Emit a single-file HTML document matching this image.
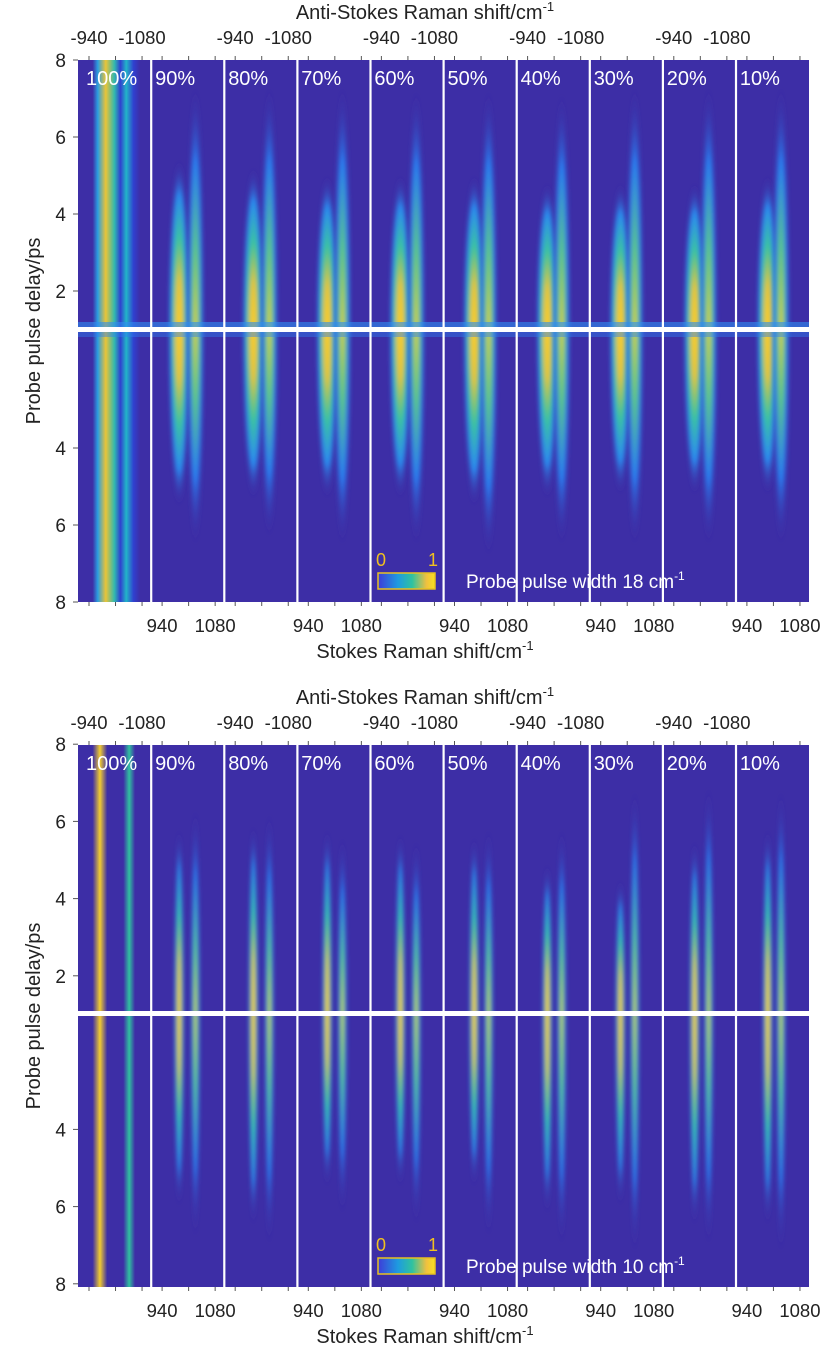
<!DOCTYPE html>
<html><head><meta charset="utf-8"><style>
html,body{margin:0;padding:0;background:#fff;}
svg{display:block;font-family:"Liberation Sans",Arial,sans-serif;}
</style></head><body>
<svg id="fig" width="830" height="1365" viewBox="0 0 830 1365" xmlns="http://www.w3.org/2000/svg">
<defs>
  <radialGradient id="blob" cx="50%" cy="50%" r="50%">
    <stop offset="0" stop-color="#fbd02a"/>
    <stop offset="0.3" stop-color="#e8c43a"/>
    <stop offset="0.55" stop-color="#3cc3a0"/>
    <stop offset="0.8" stop-color="#2b8cf0"/>
    <stop offset="1" stop-color="#3d2ea6" stop-opacity="0"/>
  </radialGradient>
  <radialGradient id="blob2" cx="50%" cy="50%" r="50%">
    <stop offset="0" stop-color="#f5d030"/>
    <stop offset="0.35" stop-color="#5cc68a"/>
    <stop offset="0.7" stop-color="#2a7ff2"/>
    <stop offset="1" stop-color="#3d2ea6" stop-opacity="0"/>
  </radialGradient>
  <linearGradient id="cbar" x1="0" x2="1" y1="0" y2="0">
    <stop offset="0" stop-color="#3e3bd8"/><stop offset="0.35" stop-color="#1e9be0"/>
    <stop offset="0.6" stop-color="#2fc2a0"/><stop offset="0.85" stop-color="#f0c040"/><stop offset="1" stop-color="#f8e020"/>
  </linearGradient>
  <linearGradient id="band100" x1="0" x2="1" y1="0" y2="0">
    <stop offset="0" stop-color="#3d2ea6"/><stop offset="0.2" stop-color="#3d2ea6"/>
    <stop offset="0.27" stop-color="#2c9ee0"/>
    <stop offset="0.38" stop-color="#e9c437"/><stop offset="0.5" stop-color="#30b8b0"/>
    <stop offset="0.58" stop-color="#3040d0"/><stop offset="0.66" stop-color="#22b5c8"/>
    <stop offset="0.76" stop-color="#3040d0"/><stop offset="0.85" stop-color="#3d2ea6"/><stop offset="1" stop-color="#3d2ea6"/>
  </linearGradient>
  <linearGradient id="band100b" x1="0" x2="1" y1="0" y2="0">
    <stop offset="0" stop-color="#3d2ea6"/><stop offset="0.2" stop-color="#3d2ea6"/>
    <stop offset="0.3" stop-color="#f2cc30"/><stop offset="0.4" stop-color="#3d2ea6"/>
    <stop offset="0.62" stop-color="#3d2ea6"/><stop offset="0.7" stop-color="#30c0a0"/>
    <stop offset="0.78" stop-color="#3d2ea6"/><stop offset="1" stop-color="#3d2ea6"/>
  </linearGradient>
  <filter id="soft" x="-50%" y="-10%" width="200%" height="120%"><feGaussianBlur stdDeviation="2"/></filter>
</defs>
<g id="root"></g>
</svg>
<script>
const labels=['100%','90%','80%','70%','60%','50%','40%','30%','20%','10%'];
// wavenumber (Stokes, cm-1) of the two streaks per sub-panel
const wnA=[968,985,988,990,990,992,992,992,995,995];
const wnB=[1022,1028,1030,1030,1032,1030,1030,1030,1032,1030];
// top panel (18 cm-1): lengths in ps above / below zero
const topUpA=[8,5.4,5.2,5.0,5.0,5.0,4.8,4.8,4.8,5.0];
const topUpB=[8,7.3,7.3,7.3,7.2,7.2,7.1,7.3,7.3,7.3];
const topDnA=[8,5.5,5.3,5.3,5.3,5.5,5.3,5.2,5.2,5.2];
const topDnB=[8,6.5,6.3,6.5,6.5,6.8,6.5,6.5,6.5,6.5];
// bottom panel (10 cm-1)
const botUpA=[8,5.8,5.9,5.8,5.7,5.6,4.9,4.5,5.5,5.8];
const botUpB=[8,6.3,6.2,5.6,5.5,5.8,5.8,6.8,6.9,6.8];
const botDnA=[8,6.0,6.5,5.5,5.5,5.5,6.2,6.0,6.5,6.5];
const botDnB=[8,6.8,7.0,6.2,6.5,6.8,7.0,7.2,7.0,7.2];
const yTicksUp=[8,6,4,2];
const yTicksDn=[4,6,8];
const topTickLbl=['-940','-1080'];
const botTickLbl=['940','1080'];

const NS='http://www.w3.org/2000/svg';
const root=document.getElementById('root');
function el(tag,attrs,parent){const e=document.createElementNS(NS,tag);for(const k in attrs)e.setAttribute(k,attrs[k]);(parent||root).appendChild(e);return e;}

const X0=78, PW=73.1, WN0=911, PXWN=0.379;
function xPanel(i){return X0+i*PW;}
function xWn(i,wn){return xPanel(i)+(wn-WN0)*PXWN;}

function drawPanel(cfg){
  const g=el('g',{});
  
  
  const yScaleUp=v=>cfg.zeroUp-(v)*(cfg.pxps);
  const yScaleDn=v=>cfg.zeroDn+(v)*(cfg.pxps);
  el('rect',{x:X0,y:cfg.top,width:PW*10,height:cfg.bot-cfg.top,fill:'#3d2ea6'},g);
  const cu=el('clipPath',{id:cfg.id+'cu'},g);el('rect',{x:0,y:cfg.top,width:830,height:cfg.brk-cfg.top},cu);
  const cd=el('clipPath',{id:cfg.id+'cd'},g);el('rect',{x:0,y:cfg.brk,width:830,height:cfg.bot-cfg.brk},cd);
  const cp=el('clipPath',{id:cfg.id+'cp'},g);el('rect',{x:X0,y:cfg.top,width:PW*10,height:cfg.bot-cfg.top},cp);
  const sg=el('g',{'clip-path':'url(#'+cfg.id+'cp)'},g);
  for(let i=0;i<10;i++){
    if(i===0){
      const b=el('rect',{x:xPanel(0),y:cfg.top,width:PW,height:cfg.bot-cfg.top,fill:cfg.big?'url(#band100)':'url(#band100b)'},sg);
      
      
      continue;
    }
    const streaks=[[cfg.wnA[i],cfg.upA[i],cfg.dnA[i],cfg.rxA],[cfg.wnB[i],cfg.upB[i],cfg.dnB[i],cfg.rxB]];
    streaks.forEach((s,k)=>{
      const cx=xWn(i,s[0]);
      const eu=el('ellipse',{cx:cx,cy:cfg.brk,rx:s[3],ry:Math.max(5,cfg.brk-yScaleUp(s[1])),fill:k?'url(#blob2)':'url(#blob)','clip-path':'url(#'+cfg.id+'cu)',filter:'url(#soft)'},sg);
      
      
      const ed=el('ellipse',{cx:cx,cy:cfg.brk,rx:s[3],ry:Math.max(5,yScaleDn(s[2])-cfg.brk),fill:k?'url(#blob2)':'url(#blob)','clip-path':'url(#'+cfg.id+'cd)',filter:'url(#soft)'},sg);
      
      
    });
  }
  if(cfg.big){el('rect',{x:X0,y:cfg.brk-7,width:PW*10,height:6,fill:'#2f8ef0',opacity:0.6},g);
    el('rect',{x:X0,y:cfg.brk+3,width:PW*10,height:5,fill:'#2f7ef0',opacity:0.45},g);}
  const bl=el('rect',{x:X0,y:cfg.brk-2,width:PW*10,height:5,fill:'#fff'},g);
  
  
  for(let i=1;i<10;i++){const s=el('rect',{x:xPanel(i)-1,y:cfg.top,width:2.2,height:cfg.bot-cfg.top,fill:'#fff'},g);
    
    }
  for(let i=0;i<10;i++){
    const t=el('text',{x:xPanel(i)+(i===0?8:4),y:cfg.top+25,fill:'#fff','font-size':20},g);t.textContent=labels[i];
    
    
    [940,1010,1080].forEach(w=>{el('line',{x1:xWn(i,w),x2:xWn(i,w),y1:cfg.top-4,y2:cfg.top,stroke:'#555'},g);
      el('line',{x1:xWn(i,w),x2:xWn(i,w),y1:cfg.bot,y2:cfg.bot+4,stroke:'#555'},g);});
    if(i%2===0){[940,1080].forEach((w,k)=>{const t2=el('text',{x:xWn(i,w),y:cfg.top-16,'text-anchor':'middle','font-size':18.5,fill:'#222'},g);t2.textContent=topTickLbl[k];
      
      });}
    else{[940,1080].forEach((w,k)=>{const t3=el('text',{x:xWn(i,w),y:cfg.bot+30,'text-anchor':'middle','font-size':18.5,fill:'#222'},g);t3.textContent=botTickLbl[k];
      
      });}
  }
  yTicksUp.forEach(v=>{const y=yScaleUp(v);el('line',{x1:X0-5,x2:X0,y1:y,y2:y,stroke:'#555'},g);
    const t=el('text',{x:X0-12,y:y+7,'text-anchor':'end','font-size':19,fill:'#222'},g);t.textContent=v;
    });
  yTicksDn.forEach(v=>{const y=yScaleDn(v);el('line',{x1:X0-5,x2:X0,y1:y,y2:y,stroke:'#555'},g);
    const t=el('text',{x:X0-12,y:y+7,'text-anchor':'end','font-size':19,fill:'#222'},g);t.textContent=v;
    });
  const at=el('text',{x:425,y:cfg.top-41,'text-anchor':'middle','font-size':20,fill:'#222'},g);
  at.innerHTML='Anti-Stokes Raman shift/cm<tspan dy="-8" font-size="13">-1</tspan>';
  
  const bt=el('text',{x:425,y:cfg.bot+56,'text-anchor':'middle','font-size':20,fill:'#222'},g);
  bt.innerHTML='Stokes Raman shift/cm<tspan dy="-8" font-size="13">-1</tspan>';
  
  const yt=el('text',{x:0,y:0,'text-anchor':'middle','font-size':20,fill:'#222',transform:'translate(40,'+((cfg.top+cfg.bot)/2)+') rotate(-90)'},g);
  yt.textContent='Probe pulse delay/ps';
  
  const cb=el('rect',{x:378,y:cfg.bot-29,width:57,height:16,fill:'url(#cbar)',stroke:'#e8c020','stroke-width':1.5},g);
  
  const c0=el('text',{x:376,y:cfg.bot-36,'font-size':18,fill:'#f0c020'},g);c0.textContent='0';
  const c1=el('text',{x:428,y:cfg.bot-36,'font-size':18,fill:'#f0c020'},g);c1.textContent='1';
  const pw=el('text',{x:466,y:cfg.bot-14,'font-size':19,fill:'#fff'},g);
  pw.innerHTML=cfg.pwText+' cm<tspan dy="-8" font-size="12">-1</tspan>';
  
}
drawPanel({id:'p1',name:'heatmap-18cm',top:60,bot:602,brk:329,zeroUp:368,zeroDn:294,pxps:38.5,
  wnA:wnA,wnB:wnB,upA:topUpA,upB:topUpB,dnA:topDnA,dnB:topDnB,rxA:11,rxB:9,big:true,pwText:'Probe pulse width 18'});
drawPanel({id:'p2',name:'heatmap-10cm',top:745,bot:1287,brk:1013,zeroUp:1053,zeroDn:975,pxps:38.6,
  wnA:wnA,wnB:wnB,upA:botUpA,upB:botUpB,dnA:botDnA,dnB:botDnB,rxA:5,rxB:5,big:false,pwText:'Probe pulse width 10'});
</script>
</body></html>
